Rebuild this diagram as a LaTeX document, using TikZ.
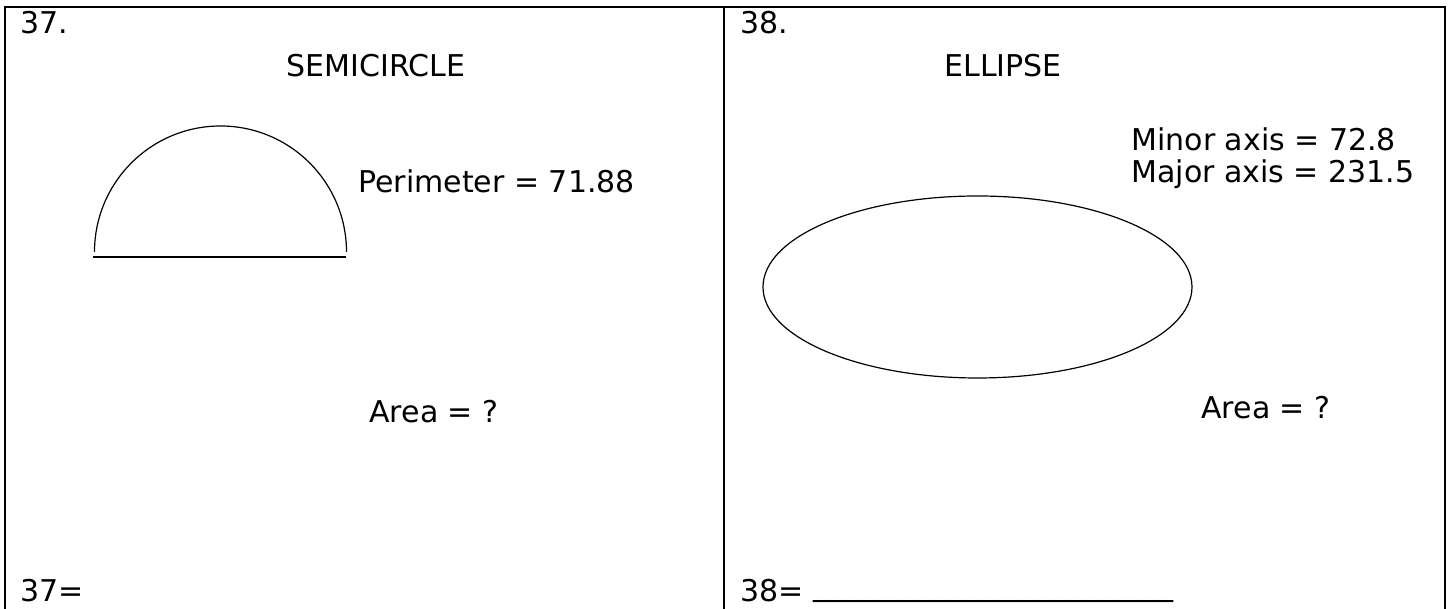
\documentclass[tikz,border=0pt]{standalone}
\usepackage{fontspec}
\setmainfont{DejaVu Sans}
\usetikzlibrary{calc}

\begin{document}
\begin{tikzpicture}[x=0.5pt, y=0.5pt,
  txt/.style={inner sep=0pt, font=\fontsize{15}{18}\selectfont},
  frame/.style={line width=1.3pt, line cap=rect},
  figline/.style={line width=0.6pt}]
  \useasboundingbox (0,0) rectangle (1452,609);

  % Frame of the two cells
  \draw[frame] (5,0) -- (5,602) -- (1445,602) -- (1445,0);
  \draw[frame] (724,0) -- (724,602);

  % Cell 37: semicircle
  \node[txt, anchor=base west] (n37) at (20,575) {37.};
  \node[txt, anchor=base] (semititle) at (376,532) {SEMICIRCLE};
  \draw[figline] (94.5,357) arc[start angle=180, end angle=0, radius=126];
  \draw[figline] (93,352) -- (346,352);
  \node[txt, anchor=base west] (perim) at (358,416) {Perimeter = 71.88};
  \node[txt, anchor=base west] (area37) at (369,186) {Area = ?};
  \node[txt, anchor=base west] (ans37) at (20,7) {37=};

  % Cell 38: ellipse
  \node[txt, anchor=base west] (n38) at (740,575) {38.};
  \node[txt, anchor=base] (elltitle) at (1003,532) {ELLIPSE};
  \node[txt, anchor=base west] (minor) at (1131,458) {Minor axis = 72.8};
  \node[txt, anchor=base west] (major) at (1131,426) {Major axis = 231.5};
  \draw[figline] (977.5,322) ellipse[x radius=214.5, y radius=91];
  \node[txt, anchor=base west] (area38) at (1201,190) {Area = ?};
  \node[txt, anchor=base west] (ans38) at (740,7)
    {38= \raisebox{3pt}{\_\_\_\_\_\_\_\_\_\_\_\_\_\_\_\_\_\_\_\_\_\_\_\_}};
\end{tikzpicture}
\end{document}
